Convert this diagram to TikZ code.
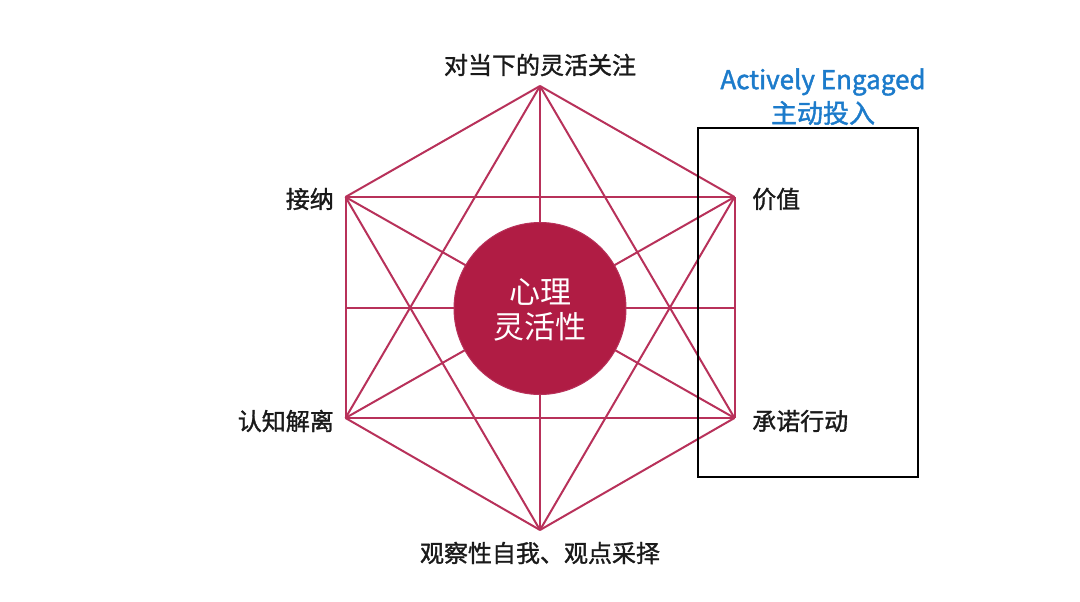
\documentclass[tikz,border=0pt]{standalone}
\usepackage{fontspec}
\setmainfont{Noto Sans CJK SC}
\newfontfamily\labfont[FakeBold=1.3]{Noto Sans CJK SC}
\newfontfamily\hdrfont[FakeBold=1.6]{Noto Sans CJK SC}
\definecolor{crim}{HTML}{B01C44}
\definecolor{lin}{HTML}{B8315A}
\definecolor{blu}{HTML}{1C7BCB}
\definecolor{txt}{HTML}{1A1A1A}
\begin{document}
\begin{tikzpicture}[x=1pt,y=-1pt,
  edge/.style={draw=lin,line width=2pt},
  lab/.style={inner sep=0pt,text=txt,font=\labfont\fontsize{24}{27}\selectfont},
  hdr/.style={inner sep=0pt,text=blu,font=\hdrfont\fontsize{26}{30}\selectfont}]
\useasboundingbox (0,0) rectangle (1080,602);
\fill[white] (0,0) rectangle (1080,602);
\coordinate (T) at (540,86);
\coordinate (UR) at (734.5,197);
\coordinate (LR) at (734.5,418);
\coordinate (B) at (540,530);
\coordinate (LL) at (345.5,418);
\coordinate (UL) at (345.5,197);
\coordinate (ML) at (345.5,307.5);
\coordinate (MR) at (734.5,307.5);
\foreach \a/\b in {T/UR,T/LR,T/B,T/LL,T/UL,UR/LR,UR/B,UR/LL,UR/UL,LR/B,LR/LL,LR/UL,B/LL,B/UL,LL/UL,ML/MR}
  \draw[edge] (\a) -- (\b);
\node[circle,fill=crim,draw=lin,line width=1pt,minimum size=172pt,inner sep=0pt] (C) at (540,308.5) {};
\node[inner sep=0pt,text=white,align=center,font=\fontsize{31}{35}\selectfont] (CT) at (540,310) {心理\\灵活性};
\node[lab] (lT) at (540,65) {对当下的灵活关注};
\node[lab] (lB) at (540,553) {观察性自我、观点采择};
\node[lab,anchor=east] (lUL) at (334,199) {接纳};
\node[lab,anchor=east] (lLL) at (334,421) {认知解离};
\node[lab,anchor=west] (lUR) at (752,199) {价值};
\node[lab,anchor=west] (lLR) at (752,421) {承诺行动};
\node[draw=black,line width=2pt,minimum width=220pt,minimum height=349pt,inner sep=0pt] (box) at (807.5,302.5) {};
\node[hdr] (h1) at (823,82) {Actively Engaged};
\node[hdr] (h2) at (823,113) {主动投入};
\end{tikzpicture}
\end{document}
